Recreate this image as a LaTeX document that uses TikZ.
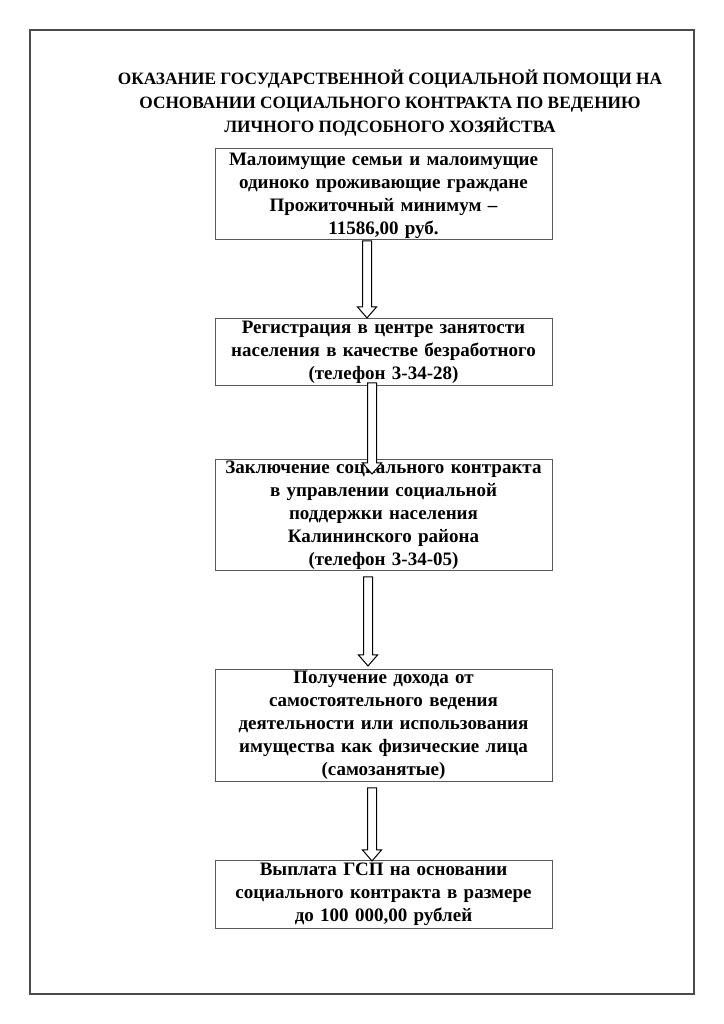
\documentclass[tikz,border=0pt]{standalone}
\usepackage{fontspec}
\setmainfont{Liberation Serif}
\usetikzlibrary{calc}
\newcommand\hollowarrow[2]{\draw[barrow] ($(#1)+(-4.5,0)$) -- ($(#2)+(-4.5,11)$) -- ($(#2)+(-9.5,11)$) -- (#2) -- ($(#2)+(9.5,11)$) -- ($(#2)+(4.5,11)$) -- ($(#1)+(4.5,0)$) -- cycle;}
\begin{document}
\begin{tikzpicture}[x=1pt,y=1pt,
  stepbox/.style={draw=black!65, line width=0.8pt, minimum width=337pt, text width=335pt, align=center, inner sep=0pt, font=\fontsize{19}{23}\selectfont\bfseries, anchor=north},
  titletext/.style={align=center, inner sep=0pt, font=\fontsize{17.3}{24}\selectfont\bfseries},
  frame/.style={draw=black!70, line width=2.5pt},
  barrow/.style={draw=black, line width=1pt, fill=white}]
\useasboundingbox (0,0) rectangle (723,1024);
\draw[frame] (30,30) rectangle (694,994);
\node[titletext] (title) at (390,921) {ОКАЗАНИЕ ГОСУДАРСТВЕННОЙ СОЦИАЛЬНОЙ ПОМОЩИ НА\\ОСНОВАНИИ СОЦИАЛЬНОГО КОНТРАКТА ПО ВЕДЕНИЮ\\ЛИЧНОГО ПОДСОБНОГО ХОЗЯЙСТВА};
\node[stepbox, minimum height=91pt] (b1) at (383.5,876) {\rule{0pt}{17pt}Малоимущие семьи и малоимущие\\одиноко проживающие граждане\\Прожиточный минимум –\\11586,00 руб.};
\node[stepbox, minimum height=67pt] (b2) at (383.5,706) {Регистрация в центре занятости\\населения в качестве безработного\\(телефон 3-34-28)};
\node[stepbox, minimum height=111pt] (b3) at (383.5,565) {Заключение социального контракта\\в управлении социальной\\поддержки населения\\Калининского района\\ (телефон 3-34-05)};
\node[stepbox, minimum height=112pt] (b4) at (383.5,355) {Получение дохода от\\самостоятельного ведения\\деятельности или использования\\имущества как физические лица\\(самозанятые)};
\node[stepbox, minimum height=68pt] (b5) at (383.5,164) {Выплата ГСП на основании\\социального контракта в размере\\до 100 000,00 рублей};
\coordinate (a1s) at ($(b1.south)+(-16.5,-1)$);
\coordinate (a1e) at ($(b2.north)+(-16.5,0)$);
\coordinate (a2s) at ($(b2.south)+(-11.5,3)$);
\coordinate (a2e) at ($(b3.north)+(-11.5,-15)$);
\coordinate (a3s) at ($(b3.south)+(-15.5,-6)$);
\coordinate (a3e) at ($(b4.north)+(-15.5,3)$);
\coordinate (a4s) at ($(b4.south)+(-11.5,-6)$);
\coordinate (a4e) at ($(b5.north)+(-11.5,-1)$);
\hollowarrow{a1s}{a1e}
\hollowarrow{a2s}{a2e}
\hollowarrow{a3s}{a3e}
\hollowarrow{a4s}{a4e}
\end{tikzpicture}
\end{document}
